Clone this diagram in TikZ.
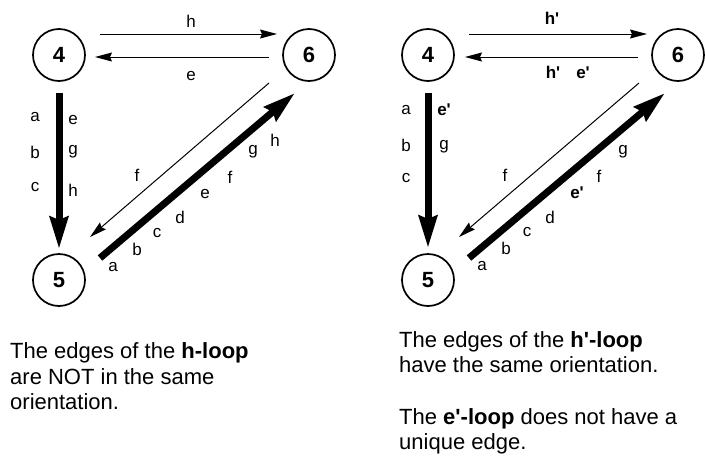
\documentclass[tikz,border=0pt]{standalone}
\usepackage{fontspec}
\newfontfamily\lsans{Liberation Sans}
\usetikzlibrary{arrows.meta}
\begin{document}
\begin{tikzpicture}[x=1pt,y=-1pt,
  vertex/.style={draw,circle,line width=1.7pt,minimum size=52pt,inner sep=0pt,
    font=\lsans\fontsize{22}{24}\selectfont\bfseries},
  thinarr/.style={line width=1pt,-{Stealth[length=17pt,width=9pt,inset=2pt]}},
  thickarr/.style={line width=7pt,-{Stealth[length=32pt,width=18pt,inset=3pt]}},
  lbl/.style={font=\lsans\fontsize{17}{19}\selectfont,inner sep=0pt},
  blbl/.style={font=\lsans\fontsize{17}{19}\selectfont\bfseries,inner sep=0pt},
  captxt/.style={font=\lsans\fontsize{22}{27}\selectfont,inner sep=0pt,anchor=base west}]
\useasboundingbox (0,0) rectangle (705,461);
% ---------- left diagram ----------
\node[vertex] (l4) at (59,55) {4};
\node[vertex] (l6) at (309,55) {6};
\node[vertex] (l5) at (59,280) {5};
\coordinate (lhs) at (100,34);  \coordinate (lht) at (277,34);
\coordinate (les) at (269,57);  \coordinate (let) at (95,57);
\coordinate (lfs) at (269,83);  \coordinate (lft) at (90,237);
\coordinate (lvs) at (59,93);   \coordinate (lvt) at (59,249);
\coordinate (lds) at (100,258); \coordinate (ldt) at (295,93);
\draw[thinarr] (lhs) -- (lht);
\draw[thinarr] (les) -- (let);
\draw[thinarr] (lfs) -- (lft);
\draw[thickarr] (lvs) -- (lvt);
\draw[thickarr] (lds) -- (ldt);
\node[lbl] (lh) at (191,21) {h};
\node[lbl] (le) at (191,76) {e};
\node[lbl] (lva) at (35,117) {a};
\node[lbl] (lvb) at (35,152) {b};
\node[lbl] (lvc) at (35,187) {c};
\node[lbl] (lve) at (73,120) {e};
\node[lbl] (lvg) at (73,152) {g};
\node[lbl] (lvh) at (73,190) {h};
\node[lbl] (lf) at (137,175) {f};
\node[lbl] (lda) at (113,267) {a};
\node[lbl] (ldb) at (137,249) {b};
\node[lbl] (ldc) at (157,233) {c};
\node[lbl] (ldd) at (180,217) {d};
\node[lbl] (lde) at (205,194) {e};
\node[lbl] (ldf) at (230,177) {f};
\node[lbl] (ldg) at (253,152) {g};
\node[lbl] (ldh) at (275,140) {h};
\node[captxt] (lc1) at (10,358) {The edges of the \textbf{h-loop}};
\node[captxt] (lc2) at (10,384) {are NOT in the same};
\node[captxt] (lc3) at (10,409) {orientation.};
% ---------- right diagram ----------
\node[vertex] (r4) at (428,55) {4};
\node[vertex] (r6) at (678,55) {6};
\node[vertex] (r5) at (428,280) {5};
\coordinate (rhs) at (469,34);  \coordinate (rht) at (647,34);
\coordinate (res) at (638,57);  \coordinate (ret) at (465,57);
\coordinate (rfs) at (639,83);  \coordinate (rft) at (459,237);
\coordinate (rvs) at (428,93);  \coordinate (rvt) at (428,248);
\coordinate (rds) at (469,258); \coordinate (rdt) at (665,93);
\draw[thinarr] (rhs) -- (rht);
\draw[thinarr] (res) -- (ret);
\draw[thinarr] (rfs) -- (rft);
\draw[thickarr] (rvs) -- (rvt);
\draw[thickarr] (rds) -- (rdt);
\node[blbl] (rh) at (552,18) {h'};
\node[blbl] (rh2) at (553,72) {h'};
\node[blbl] (re2) at (583,73) {e'};
\node[lbl] (rva) at (406,110) {a};
\node[lbl] (rvb) at (406,145) {b};
\node[lbl] (rvc) at (406,178) {c};
\node[blbl] (rve) at (444,110) {e'};
\node[lbl] (rvg) at (444,147) {g};
\node[lbl] (rf) at (505,175) {f};
\node[lbl] (rda) at (482,266) {a};
\node[lbl] (rdb) at (506,248) {b};
\node[lbl] (rdc) at (527,232) {c};
\node[lbl] (rdd) at (550,217) {d};
\node[blbl] (rde) at (577,193) {e'};
\node[lbl] (rdf) at (599,176) {f};
\node[lbl] (rdg) at (623,152) {g};
\node[captxt] (rc1) at (399,347) {The edges of the \textbf{h'-loop}};
\node[captxt] (rc2) at (399,372) {have the same orientation.};
\node[captxt] (rc3) at (399,424) {The \textbf{e'-loop} does not have a};
\node[captxt] (rc4) at (399,449) {unique edge.};
\end{tikzpicture}
\end{document}
